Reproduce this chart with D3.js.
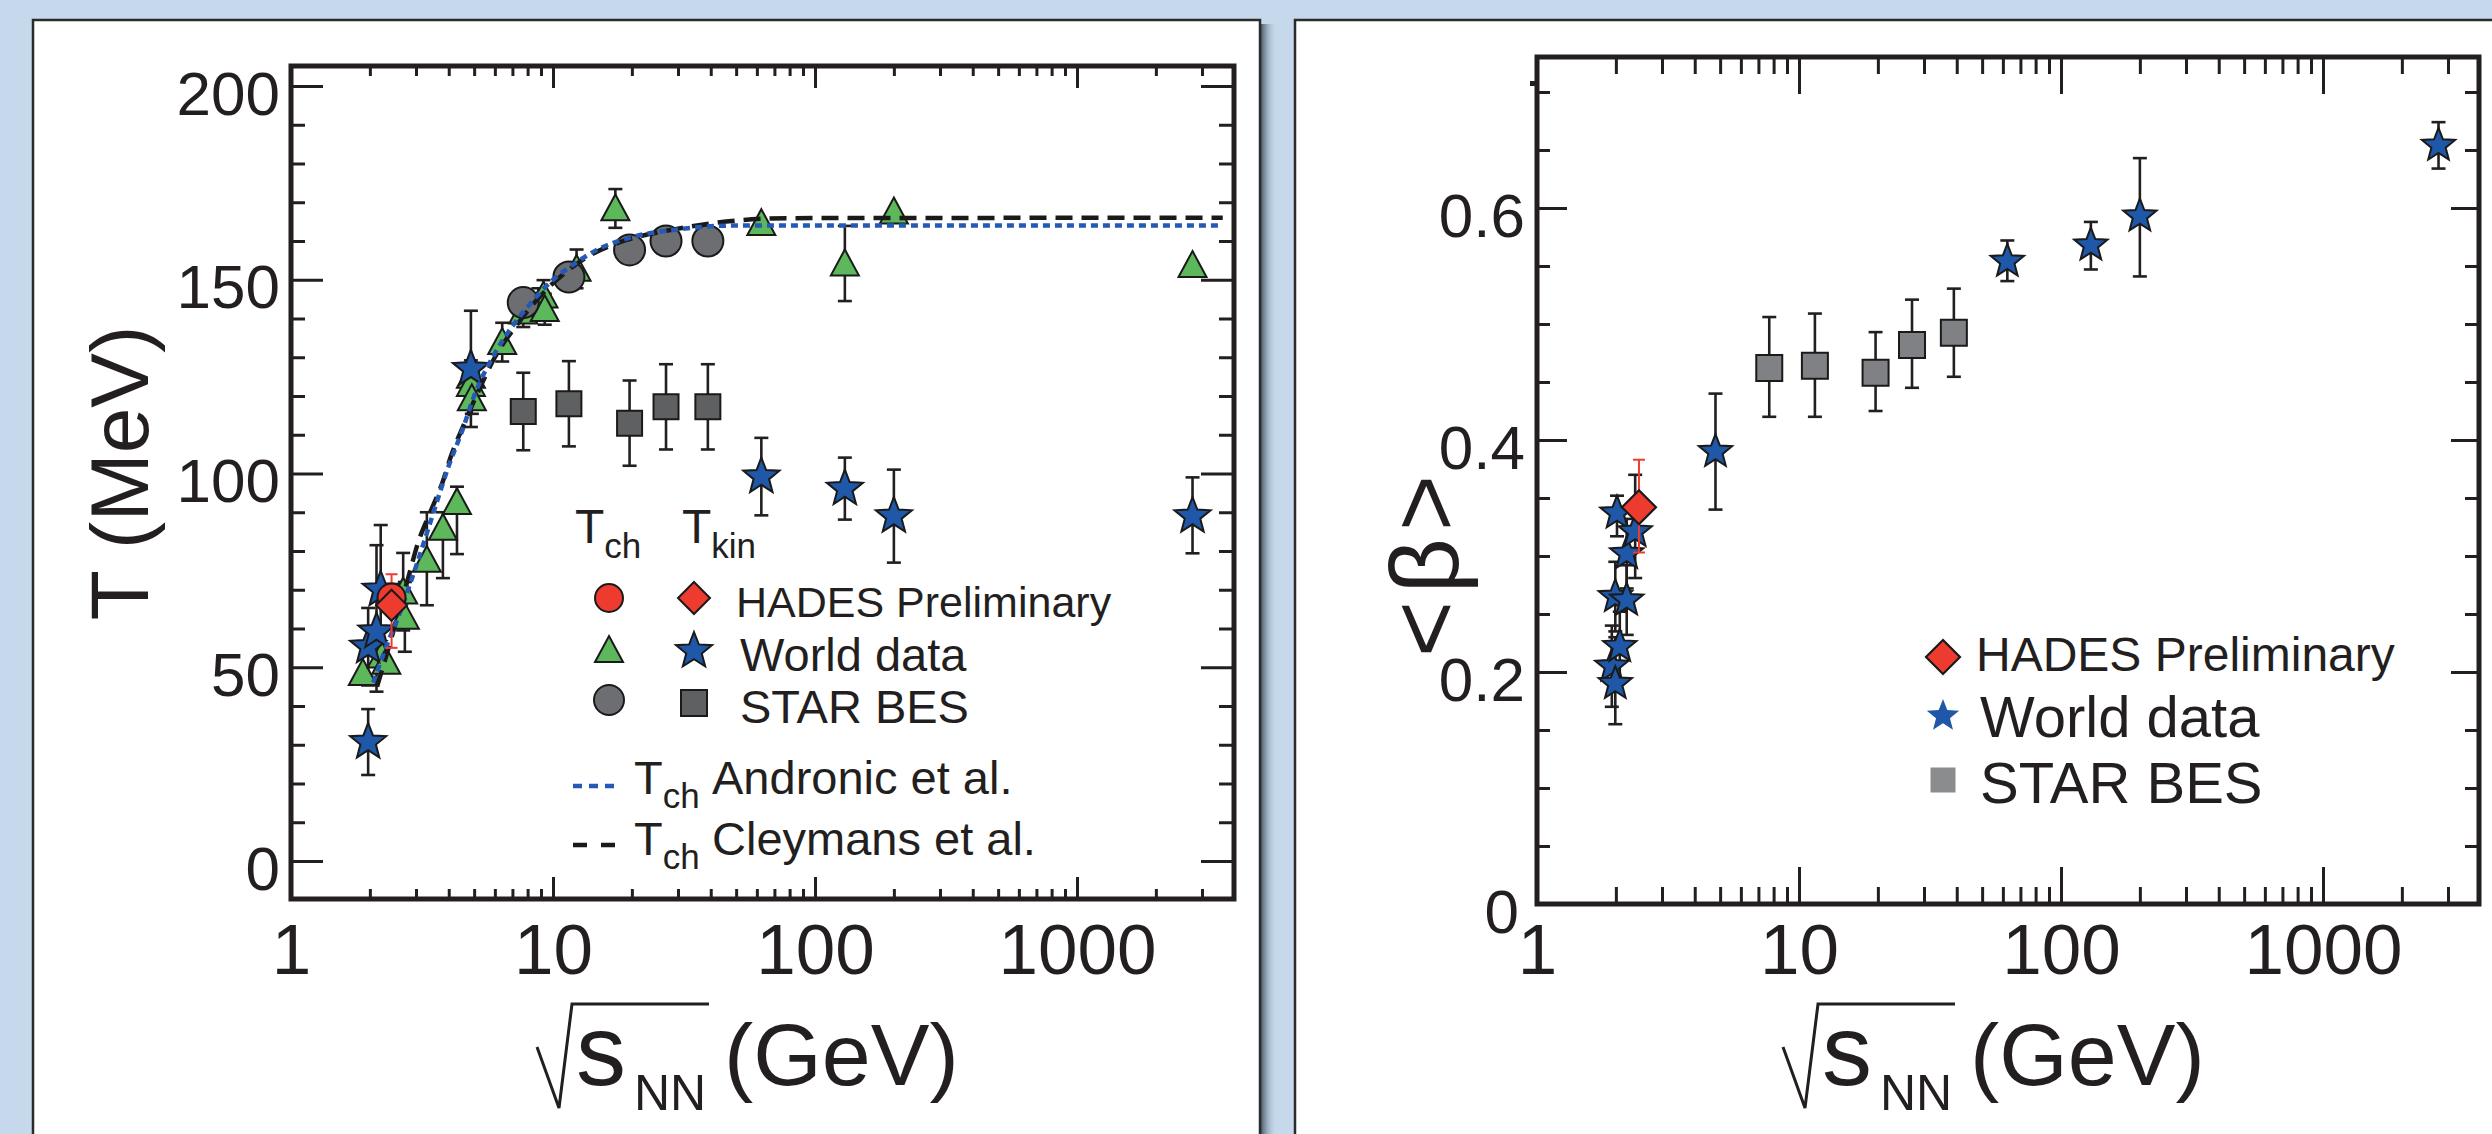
<!DOCTYPE html>
<html><head><meta charset="utf-8">
<script src="https://cdn.jsdelivr.net/npm/d3@7"></script>
<style>
html,body{margin:0;padding:0;background:#c5d8ec;overflow:hidden;}
svg{display:block;}
text{font-family:"Liberation Sans",Arial,Helvetica,sans-serif;}
</style></head><body>
<script>
// ---------------- DATA ----------------
const xTickValues = [1, 10, 100, 1000];
const xTickLabels = ["1", "10", "100", "1000"];
const tTickValues = [0, 50, 100, 150, 200];
const tTickLabels = ["0", "50", "100", "150", "200"];
const betaTickValues = [0, 0.2, 0.4, 0.6];
const betaTickLabels = ["0", "0.2", "0.4", "0.6"];

// Left panel: [sqrt(sNN), T, errLow, errHigh]
const worldTch = [
  [1.88,48.5,0,0],[2.22,53,0,0],[2.31,51.4,0,0],[2.68,69.5,10,10],[2.72,63,9,9],
  [3.3,77.7,11.7,12.3],[3.8,86,13,4],[4.3,92.6,13.4,4],
  [4.86,125.2,4,4],[4.86,123.1,4,4],[4.9,119.4,4,4],[6.4,133.9,5,5],
  [7.7,141.8,4,4],[8.8,143.8,4,4],[9.2,145.9,4,4],[9.3,142.4,4,4],[12.3,152.8,5,5],
  [17.3,168.4,5,5],[62.4,164.6,0,0],[130,154.2,9.7,9.7],[200,167.6,0,0],[2760,153.8,0,0]
];
const worldTkin = [
  [1.97,30.7,8.5,8.5],[1.97,55.3,10,10],[2.12,59.2,15.5,22.3],[2.2,70,17,16.7],
  [4.86,127,15,15],[62.4,99.2,10,10],[130,96.1,8,8],[200,89,12,12],[2760,89,9.6,10]
];
const hadesTch = [[2.42,68,0,0]];
const hadesTkin = [[2.42,66,11,8]];
const starTch = [[7.7,144.1,0,0],[11.5,150.7,0,0],[19.6,157.7,0,0],[27,160,0,0],[39,160,0,0]];
const starTkin = [[7.7,116,10,10],[11.5,118,11,11],[19.6,113,11,11],[27,117.2,11,11],[39,117.2,11,11]];

const andronicS = [2.06,2.3,2.6,3.0,3.5,4.0,4.5,5.0,6.0,7.0,8.0,10,12,15,20,30,50,100,3600];
const andronicT = [46,55,64,76,90,102,111,120,131,138,143,150,154,158,161,163,164,164,164];
const cleymansS = [2.13,2.5,2.8,3.05,3.4,3.8,4.08,4.58,5.17,6.0,7.4,9.0,11.2,14,18,29,52.6,80,3600];
const cleymansT = [45,61,73,82,90,98,104.5,112.8,121,130,139,146,152,156.5,159.7,163,165.4,165.9,166];

// Right panel: [sqrt(sNN), <beta>, errLow, errHigh]
const worldBeta = [
  [1.93,0.205,0.035,0.035],[1.99,0.190,0.035,0.04],[2.07,0.222,0.03,0.03],[1.99,0.265,0.03,0.03],
  [2.2,0.262,0.03,0.03],[2.2,0.302,0.03,0.03],[2.02,0.337,0.02,0.015],[2.37,0.321,0.04,0.049],
  [4.8,0.39,0.05,0.05],[62.4,0.554,0.017,0.018],[130,0.568,0.021,0.02],[200,0.593,0.052,0.05],[2760,0.654,0.02,0.02]
];
const hadesBeta = [[2.45,0.342,0.039,0.041]];
const starBeta = [[7.7,0.462,0.042,0.044],[11.5,0.464,0.044,0.045],[19.6,0.458,0.033,0.035],[27,0.482,0.037,0.039],[39,0.4925,0.038,0.038]];

// legend texts
const legendLeftRows = ["HADES Preliminary", "World data", "STAR BES"];
const legendRightRows = ["HADES Preliminary", "World data", "STAR BES"];

// ---------------- DRAWING ----------------
const W = 2492, H = 1134, ink = "#231f20";
const cGreen = "#5cb85a", cBlue = "#1f58a8", cRed = "#ee3b30", cGrayC = "#6d6e71", cGrayS = "#5f6062", cGrayS2 = "#808184";
const svg = d3.select("body").append("svg").attr("width", W).attr("height", H);
svg.append("rect").attr("width", W).attr("height", H).attr("fill", "#c5d8ec");
const defs = svg.append("defs");
const gr = defs.append("linearGradient").attr("id", "shadow").attr("x1", 0).attr("x2", 1).attr("y1", 0).attr("y2", 0);
gr.append("stop").attr("offset", 0).attr("stop-color", "#3f4d5c").attr("stop-opacity", 0.9);
gr.append("stop").attr("offset", 1).attr("stop-color", "#c5d8ec").attr("stop-opacity", 0);
svg.append("rect").attr("x", 1261).attr("y", 24).attr("width", 16).attr("height", H).attr("fill", "url(#shadow)");
svg.append("rect").attr("x", 33).attr("y", 20).attr("width", 1227).attr("height", 1300)
  .attr("fill", "#fff").attr("stroke", "#2b2b2b").attr("stroke-width", 2.5);
svg.append("rect").attr("x", 1295).attr("y", 20).attr("width", 1300).attr("height", 1300)
  .attr("fill", "#fff").attr("stroke", "#2b2b2b").attr("stroke-width", 2.5);

function markerPath(type, s) {
  const p = d3.path();
  if (type === "star") {
    const R = s, r = s * 0.43;
    for (let k = 0; k < 10; k++) {
      const a = -Math.PI / 2 + k * Math.PI / 5, rr = k % 2 ? r : R;
      const px = rr * Math.cos(a), py = rr * Math.sin(a);
      k ? p.lineTo(px, py) : p.moveTo(px, py);
    }
    p.closePath();
  } else if (type === "tri") {
    p.moveTo(0, -s * 1.0); p.lineTo(s, s * 0.85); p.lineTo(-s, s * 0.85); p.closePath();
  } else if (type === "diamond") {
    p.moveTo(0, -s); p.lineTo(s, 0); p.lineTo(0, s); p.lineTo(-s, 0); p.closePath();
  } else if (type === "circle") {
    p.arc(0, 0, s, 0, 2 * Math.PI); p.closePath();
  } else if (type === "square") {
    p.rect(-s, -s, 2 * s, 2 * s);
  }
  return p.toString();
}

function errBars(g, data, x, y, color, cap, sw) {
  const d = data.filter(v => v[2] > 0 || v[3] > 0);
  const eg = g.append("g").attr("stroke", color).attr("stroke-width", sw).attr("fill", "none");
  eg.selectAll("line.v").data(d).join("line").attr("class", "v")
    .attr("x1", v => x(v[0])).attr("x2", v => x(v[0]))
    .attr("y1", v => y(v[1] - v[2])).attr("y2", v => y(v[1] + v[3]));
  eg.selectAll("line.t").data(d.filter(v => v[3] > 0)).join("line").attr("class", "t")
    .attr("x1", v => x(v[0]) - cap).attr("x2", v => x(v[0]) + cap)
    .attr("y1", v => y(v[1] + v[3])).attr("y2", v => y(v[1] + v[3]));
  eg.selectAll("line.b").data(d.filter(v => v[2] > 0)).join("line").attr("class", "b")
    .attr("x1", v => x(v[0]) - cap).attr("x2", v => x(v[0]) + cap)
    .attr("y1", v => y(v[1] - v[2])).attr("y2", v => y(v[1] - v[2]));
}

function markers(g, data, x, y, type, size, fill, stroke, sw) {
  g.append("g").selectAll("path").data(data).join("path")
    .attr("transform", v => `translate(${x(v[0])},${y(v[1])})`)
    .attr("d", markerPath(type, size)).attr("fill", fill)
    .attr("stroke", stroke || "none").attr("stroke-width", sw || 0).attr("stroke-linejoin", "miter");
}

function minorLog(dom) {
  const out = [];
  for (let e = 0; e < 4; e++) for (let m = 2; m <= 9; m++) { const v = m * Math.pow(10, e); if (v <= dom[1]) out.push(v); }
  return out;
}

function axes(g, x, y, f, c) {
  const clean = s => { s.select(".domain").remove(); s.attr("font-size", null).attr("font-family", null);
    s.selectAll("line").attr("stroke", ink).attr("stroke-width", c.tw); };
  const xMinor = minorLog(x.domain());
  g.append("g").attr("transform", `translate(0,${f.y1})`)
    .call(d3.axisBottom(x).tickValues(xMinor).tickSize(-c.xMin).tickFormat("")).call(clean);
  g.append("g").attr("transform", `translate(0,${f.y1})`)
    .call(d3.axisBottom(x).tickValues(xTickValues).tickSize(-c.xMaj).tickFormat(d => xTickLabels[xTickValues.indexOf(d)]))
    .call(clean)
    .call(s => s.selectAll("text").attr("y", c.xLabBase - f.y1).attr("dy", 0).attr("font-size", 71).attr("fill", ink));
  g.append("g").attr("transform", `translate(0,${f.y0})`)
    .call(d3.axisTop(x).tickValues(xMinor).tickSize(-c.xMin).tickFormat("")).call(clean);
  g.append("g").attr("transform", `translate(0,${f.y0})`)
    .call(d3.axisTop(x).tickValues(xTickValues).tickSize(-c.xMaj).tickFormat("")).call(clean);
  g.append("g").attr("transform", `translate(${f.x0},0)`)
    .call(d3.axisLeft(y).tickValues(c.yMinor).tickSize(-c.yMin).tickFormat("")).call(clean);
  g.append("g").attr("transform", `translate(${f.x0},0)`)
    .call(d3.axisLeft(y).tickValues(c.yMajor).tickSize(-c.yMaj).tickFormat(d => c.yLabels[c.yMajor.indexOf(d)]))
    .call(clean)
    .call(s => s.selectAll("text").attr("x", d => d === 0 ? -c.yLabGap0 : -c.yLabGap).attr("dy", 0).attr("y", 28).attr("font-size", 62).attr("fill", ink));
  g.append("g").attr("transform", `translate(${f.x1},0)`)
    .call(d3.axisRight(y).tickValues(c.yMinor).tickSize(-c.yMin2).tickFormat("")).call(clean);
  g.append("g").attr("transform", `translate(${f.x1},0)`)
    .call(d3.axisRight(y).tickValues(c.yMajor).tickSize(-c.yMaj2).tickFormat("")).call(clean);
  g.append("rect").attr("x", f.x0).attr("y", f.y0).attr("width", f.x1 - f.x0).attr("height", f.y1 - f.y0)
    .attr("fill", "none").attr("stroke", ink).attr("stroke-width", 5);
}

function xTitle(g, x0) {
  const p = d3.path();
  p.moveTo(x0 + 246, 1047); p.lineTo(x0 + 268, 1108); p.lineTo(x0 + 281, 1004); p.lineTo(x0 + 418, 1004);
  g.append("path").attr("d", p.toString()).attr("fill", "none").attr("stroke", ink).attr("stroke-width", 3);
  g.append("text").attr("x", x0 + 285).attr("y", 1085).attr("font-size", 100).attr("fill", ink).text("s");
  g.append("text").attr("x", x0 + 343).attr("y", 1110).attr("font-size", 50).attr("fill", ink).text("NN");
  g.append("text").attr("x", x0 + 433).attr("y", 1085).attr("font-size", 88).attr("fill", ink).text("(GeV)");
}

// ================= LEFT PANEL =================
const fL = { x0: 291, x1: 1234, y0: 66, y1: 899 };
const xL = d3.scaleLog().domain([1, Math.pow(10, (fL.x1 - fL.x0) / 262)]).range([fL.x0, fL.x1]);
const yL = d3.scaleLinear().domain([(861 - fL.y1) / 3.875, (861 - fL.y0) / 3.875]).range([fL.y1, fL.y0]);
const gL = svg.append("g");
const tMinor = d3.range(0, 201, 10).filter(v => v % 50 !== 0);
axes(gL, xL, yL, fL, { tw: 3, xMin: 10, xMaj: 22, yMin: 14, yMaj: 32, yMin2: 15, yMaj2: 33,
  yMinor: tMinor, yMajor: tTickValues, yLabels: tTickLabels, yLabGap: 11, yLabGap0: 11, xLabBase: 974 });

gL.append("clipPath").attr("id", "clipL").append("rect").attr("x", fL.x0).attr("y", fL.y0)
  .attr("width", fL.x1 - fL.x0).attr("height", fL.y1 - fL.y0);
const dL = gL.append("g").attr("clip-path", "url(#clipL)");

errBars(dL, worldTch, xL, yL, ink, 7, 2.6);
errBars(dL, worldTkin, xL, yL, ink, 7, 2.6);
errBars(dL, starTkin, xL, yL, ink, 7, 2.6);
markers(dL, worldTch, xL, yL, "tri", 14, cGreen, "#1a1a1a", 2);
markers(dL, starTch, xL, yL, "circle", 15.5, cGrayC, "#1a1a1a", 2);
markers(dL, starTkin, xL, yL, "square", 12.5, cGrayS, "#1a1a1a", 2);
markers(dL, worldTkin, xL, yL, "star", 19, cBlue, "#1a1a1a", 2);

const lineA = d3.line().x(d => xL(d[0])).y(d => yL(d[1])).curve(d3.curveMonotoneX);
dL.append("path").attr("d", lineA(d3.zip(cleymansS, cleymansT))).attr("fill", "none")
  .attr("stroke", "#1a1a1a").attr("stroke-width", 4.5).attr("stroke-dasharray", "17,9");
dL.append("path").attr("d", lineA(d3.zip(andronicS, andronicT))).attr("fill", "none")
  .attr("stroke", "#2559b5").attr("stroke-width", 4.5).attr("stroke-dasharray", "7,5");

errBars(dL, hadesTkin, xL, yL, cRed, 6, 2);
markers(dL, hadesTch, xL, yL, "circle", 14, cRed, "#1a1a1a", 2);
markers(dL, hadesTkin, xL, yL, "diamond", 15.5, cRed, "#1a1a1a", 2);

// left legend
const lg = gL.append("g");
function tSub(g, x, y, fs, sub, subFs, subDy) {
  const t = g.append("text").attr("x", x).attr("y", y).attr("font-size", fs).attr("fill", ink);
  t.append("tspan").text("T");
  t.append("tspan").attr("font-size", subFs).attr("dy", subDy).text(sub);
  return t;
}
tSub(lg, 575, 543, 48, "ch", 35, 15);
tSub(lg, 682, 543, 48, "kin", 35, 15);
const lgMark = (cx, cy, type, s, fill) => lg.append("path").attr("transform", `translate(${cx},${cy})`)
  .attr("d", markerPath(type, s)).attr("fill", fill).attr("stroke", "#1a1a1a").attr("stroke-width", 2);
lgMark(609, 598, "circle", 14, cRed); lgMark(694, 598, "diamond", 16, cRed);
lgMark(609, 650, "tri", 14, cGreen); lgMark(694, 651, "star", 19, cBlue);
lgMark(609, 700, "circle", 15, cGrayC); lgMark(694, 703, "square", 13, cGrayS);
lg.append("text").attr("x", 736).attr("y", 617).attr("font-size", 43).attr("fill", ink).text(legendLeftRows[0]);
lg.append("text").attr("x", 740).attr("y", 671).attr("font-size", 47).attr("fill", ink).text(legendLeftRows[1]);
lg.append("text").attr("x", 740).attr("y", 723).attr("font-size", 47).attr("fill", ink).text(legendLeftRows[2]);
lg.append("line").attr("x1", 573).attr("x2", 621).attr("y1", 786).attr("y2", 786).attr("stroke", "#2559b5")
  .attr("stroke-width", 4.5).attr("stroke-dasharray", "9,7");
lg.append("line").attr("x1", 573).attr("x2", 621).attr("y1", 845).attr("y2", 845).attr("stroke", "#1a1a1a")
  .attr("stroke-width", 4.5).attr("stroke-dasharray", "14,14");
tSub(lg, 634, 794, 47, "ch", 35, 14);
lg.append("text").attr("x", 712).attr("y", 794).attr("font-size", 47).attr("fill", ink).text("Andronic et al.");
tSub(lg, 634, 855, 47, "ch", 35, 14);
lg.append("text").attr("x", 712).attr("y", 855).attr("font-size", 47).attr("fill", ink).text("Cleymans et al.");

// axis titles
svg.append("text").attr("transform", "translate(148,473) rotate(-90)").attr("text-anchor", "middle")
  .attr("font-size", 82).attr("fill", ink).text("T (MeV)");
xTitle(svg.append("g"), fL.x0);

// ================= RIGHT PANEL =================
const fR = { x0: 1537, x1: 2479, y0: 57, y1: 904 };
const xR = d3.scaleLog().domain([1, Math.pow(10, (fR.x1 - fR.x0) / 262)]).range([fR.x0, fR.x1]);
const yR = d3.scaleLinear().domain([0, (fR.y1 - fR.y0) / 1160]).range([fR.y1, fR.y0]);
const gR = svg.append("g");
const bMinor = d3.range(1, 15).map(k => k * 0.05).filter(v => Math.abs(v * 5 - Math.round(v * 5)) > 1e-6);
axes(gR, xR, yR, fR, { tw: 3, xMin: 17, xMaj: 37, yMin: 13, yMaj: 30, yMin2: 14, yMaj2: 28,
  yMinor: bMinor, yMajor: betaTickValues, yLabels: betaTickLabels, yLabGap: 12, yLabGap0: 18, xLabBase: 974 });
gR.append("rect").attr("x", 1530).attr("y", 81).attr("width", 5).attr("height", 5).attr("fill", ink);

gR.append("clipPath").attr("id", "clipR").append("rect").attr("x", fR.x0).attr("y", fR.y0)
  .attr("width", fR.x1 - fR.x0).attr("height", fR.y1 - fR.y0);
const dR = gR.append("g").attr("clip-path", "url(#clipR)");
errBars(dR, worldBeta, xR, yR, ink, 7, 2.6);
errBars(dR, starBeta, xR, yR, ink, 7, 2.6);
markers(dR, starBeta, xR, yR, "square", 13, cGrayS2, "#1a1a1a", 2);
markers(dR, worldBeta, xR, yR, "star", 17.5, cBlue, "#1a1a1a", 2);
errBars(dR, hadesBeta, xR, yR, cRed, 6, 2);
markers(dR, hadesBeta, xR, yR, "diamond", 17, cRed, "#1a1a1a", 2.2);

// right legend
const rg = gR.append("g");
rg.append("path").attr("transform", "translate(1943,657)").attr("d", markerPath("diamond", 17))
  .attr("fill", cRed).attr("stroke", "#1a1a1a").attr("stroke-width", 2.2);
rg.append("path").attr("transform", "translate(1943,716)").attr("d", markerPath("star", 17)).attr("fill", cBlue);
rg.append("path").attr("transform", "translate(1943,780)").attr("d", markerPath("square", 12.5)).attr("fill", "#8b8c8e");
rg.append("text").attr("x", 1976).attr("y", 671).attr("font-size", 48).attr("fill", ink).text(legendRightRows[0]);
rg.append("text").attr("x", 1980).attr("y", 737).attr("font-size", 58).attr("fill", ink).text(legendRightRows[1]);
rg.append("text").attr("x", 1980).attr("y", 803).attr("font-size", 58).attr("fill", ink).text(legendRightRows[2]);

svg.append("text").attr("transform", "translate(1458,566) rotate(-90)").attr("text-anchor", "middle")
  .attr("font-size", 96).attr("textLength", 182).attr("lengthAdjust", "spacing").attr("fill", ink).text("<β>");
xTitle(svg.append("g"), fR.x0);
</script>
</body></html>
